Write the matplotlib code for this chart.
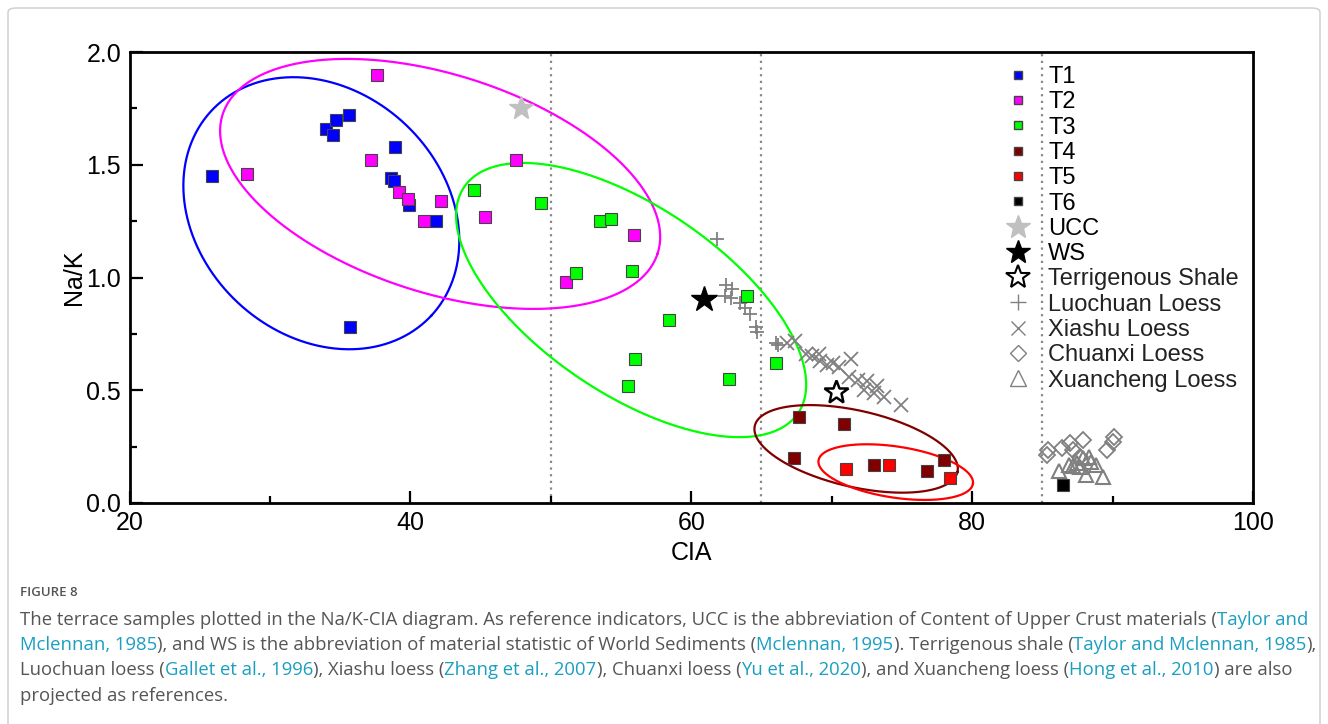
import numpy as np
import matplotlib
matplotlib.use('Agg')
import matplotlib.pyplot as plt
from matplotlib.lines import Line2D
from matplotlib.patches import FancyBboxPatch

plt.rcParams['font.family'] = ['Liberation Sans', 'DejaVu Sans']

# terrace samples (CIA, Na/K)
t1_cia = [25.9, 34.0, 34.7, 35.6, 34.5, 38.9, 38.6, 38.8, 39.9, 41.8, 35.7]
t1_nak = [1.45, 1.66, 1.70, 1.72, 1.63, 1.58, 1.44, 1.43, 1.32, 1.25, 0.78]
t2_cia = [37.6, 28.4, 37.2, 39.2, 39.8, 42.2, 41.0, 47.5, 45.3, 55.9, 51.1]
t2_nak = [1.90, 1.46, 1.52, 1.38, 1.35, 1.34, 1.25, 1.52, 1.27, 1.19, 0.98]
t3_cia = [44.5, 49.3, 53.5, 54.3, 55.8, 51.8, 58.4, 64.0, 56.0, 55.5, 62.7, 66.0]
t3_nak = [1.39, 1.33, 1.25, 1.26, 1.03, 1.02, 0.81, 0.92, 0.64, 0.52, 0.55, 0.62]
t4_cia = [67.7, 70.9, 67.3, 73.0, 76.8, 78.0]
t4_nak = [0.38, 0.35, 0.20, 0.17, 0.14, 0.19]
t5_cia = [71.0, 74.1, 78.4]
t5_nak = [0.15, 0.17, 0.11]
t6_cia = [86.5]
t6_nak = [0.08]

# reference indicators
ucc = (47.9, 1.75)
ws = (60.9, 0.905)
shale = (70.3, 0.494)

luochuan_cia = [61.8, 62.5, 62.9, 62.4, 62.8, 63.5, 63.8, 64.2, 64.6, 64.7, 66.0, 66.2]
luochuan_nak = [1.17, 0.965, 0.95, 0.92, 0.91, 0.885, 0.865, 0.84, 0.78, 0.76, 0.71, 0.70]
xiashu_cia = [67.4, 66.8, 68.2, 68.6, 69.1, 69.2, 69.7, 70.1, 70.5, 71.4, 71.2, 71.9,
              72.5, 72.3, 73.0, 73.2, 73.7, 74.9]
xiashu_nak = [0.72, 0.71, 0.66, 0.65, 0.66, 0.63, 0.61, 0.62, 0.605, 0.64, 0.56, 0.545,
              0.54, 0.50, 0.49, 0.52, 0.47, 0.435]
chuanxi_cia = [85.4, 85.3, 86.4, 87.0, 87.2, 87.9, 87.7, 90.1, 90.0, 89.6]
chuanxi_nak = [0.235, 0.213, 0.242, 0.265, 0.235, 0.279, 0.205, 0.294, 0.272, 0.235]
xuancheng_cia = [86.2, 86.9, 87.5, 87.9, 88.3, 88.1, 88.8, 89.3, 87.7, 87.2, 88.5]
xuancheng_nak = [0.14, 0.17, 0.176, 0.198, 0.205, 0.124, 0.169, 0.117, 0.16, 0.165, 0.18]

# ellipses: centre (CIA, Na/K), semi-axes in CIA-equivalent units, tilt (deg)
ell_colors = ['#0000ff', '#ff00ff', '#00ff00', '#800000', '#ff0000']
ell_cx = [33.66, 42.12, 55.72, 71.74, 74.56]
ell_cy = [1.285, 1.415, 0.90, 0.240, 0.137]
ell_a = [10.7, 16.26, 14.36, 7.40, 5.56]
ell_b = [8.71, 7.77, 6.67, 2.72, 1.82]
ell_ang = [-43.0, -17.7, -34.1, -12.8, -8.6]

boundaries = [50, 65, 85]

fig = plt.figure(figsize=(13.28, 7.24), dpi=100)
W, H = 1328, 724
ax = fig.add_axes([129.5 / W, 1 - 503 / H, (1253 - 129.5) / W, (503 - 52) / H])
ax.set_xlim(20, 100)
ax.set_ylim(0, 2.0)

for b in boundaries:
    ax.axvline(b, color='#888888', linestyle=(0, (1, 2)), linewidth=1.6, zorder=1)

# ellipses drawn in data space, corrected for the axis aspect
bb = ax.get_position()
k = (bb.height * H / 2.0) / (bb.width * W / 80.0)
t = np.linspace(0, 2 * np.pi, 300)
for c, cx, cy, a, b_, ang in zip(ell_colors, ell_cx, ell_cy, ell_a, ell_b, ell_ang):
    p = np.radians(ang)
    ex = cx + a * np.cos(p) * np.cos(t) - b_ * np.sin(p) * np.sin(t)
    ey = cy + (a * np.sin(p) * np.cos(t) + b_ * np.cos(p) * np.sin(t)) / k
    ax.plot(ex, ey, color=c, linewidth=1.6, zorder=2)

gray = '#808080'
ax.plot(luochuan_cia, luochuan_nak, '+', color=gray, markersize=10, mew=1.3, zorder=3)
ax.plot(xiashu_cia, xiashu_nak, 'x', color=gray, markersize=10, mew=1.3, zorder=3)
ax.plot(chuanxi_cia, chuanxi_nak, 'D', mfc='none', mec=gray, markersize=8, mew=1.3, zorder=3)
ax.plot(xuancheng_cia, xuancheng_nak, '^', mfc='none', mec=gray, markersize=10, mew=1.5, zorder=3)

sq = dict(marker='s', linestyle='none', markersize=8, mec='#444444', mew=0.8, zorder=4)
ax.plot(t1_cia, t1_nak, mfc='#0000ff', **sq)
ax.plot(t2_cia, t2_nak, mfc='#ff00ff', **sq)
ax.plot(t3_cia, t3_nak, mfc='#00ff00', **sq)
ax.plot(t4_cia, t4_nak, mfc='#800000', **sq)
ax.plot(t5_cia, t5_nak, mfc='#ff0000', **sq)
ax.plot(t6_cia, t6_nak, mfc='#000000', **sq)

ax.plot(*ucc, '*', color='#c0c0c0', markersize=18, zorder=5)
ax.plot(*ws, '*', color='black', markersize=19, zorder=5)
ax.plot(*shale, '*', mfc='white', mec='black', mew=1.8, markersize=18, zorder=5)

# legend
lg = dict(linestyle='none')
handles = [
    Line2D([], [], marker='s', mfc='#0000ff', mec='#444444', markersize=6, **lg),
    Line2D([], [], marker='s', mfc='#ff00ff', mec='#444444', markersize=6, **lg),
    Line2D([], [], marker='s', mfc='#00ff00', mec='#444444', markersize=6, **lg),
    Line2D([], [], marker='s', mfc='#800000', mec='#444444', markersize=6, **lg),
    Line2D([], [], marker='s', mfc='#ff0000', mec='#444444', markersize=6, **lg),
    Line2D([], [], marker='s', mfc='#000000', mec='#444444', markersize=6, **lg),
    Line2D([], [], marker='*', color='#c0c0c0', markersize=18, **lg),
    Line2D([], [], marker='*', color='black', markersize=18, **lg),
    Line2D([], [], marker='*', mfc='white', mec='black', mew=1.5, markersize=18, **lg),
    Line2D([], [], marker='+', color=gray, markersize=12, mew=1.0, **lg),
    Line2D([], [], marker='x', color=gray, markersize=10, mew=1.0, **lg),
    Line2D([], [], marker='D', mfc='none', mec=gray, markersize=8, mew=1.0, **lg),
    Line2D([], [], marker='^', mfc='none', mec=gray, markersize=11, mew=1.0, **lg),
]
labels = ['T1', 'T2', 'T3', 'T4', 'T5', 'T6', 'UCC', 'WS', 'Terrigenous Shale',
          'Luochuan Loess', 'Xiashu Loess', 'Chuanxi Loess', 'Xuancheng Loess']
leg = ax.legend(handles, labels, loc='upper left', bbox_to_anchor=(0.7725, 0.969),
                frameon=False, fontsize=17, labelspacing=0.14, handletextpad=0.4,
                handlelength=1.75, borderaxespad=0, borderpad=0)
for txt in leg.get_texts()[8:]:
    txt.set_color('#222222')

ax.set_xticks([20, 40, 60, 80, 100])
ax.set_xticks([30, 50, 70, 90], minor=True)
ax.set_yticks([0.0, 0.5, 1.0, 1.5, 2.0])
ax.set_yticks([0.25, 0.75, 1.25, 1.75], minor=True)
ax.set_yticklabels(['0.0', '0.5', '1.0', '1.5', '2.0'])
ax.tick_params(which='both', direction='in', width=1.6, labelsize=18, pad=6)
ax.tick_params(which='major', length=9)
ax.tick_params(which='minor', length=5)
for s in ax.spines.values():
    s.set_linewidth(2)
ax.set_xlabel('CIA', fontsize=18, labelpad=4)
ax.set_ylabel('Na/K', fontsize=18, labelpad=0)

# outer frame
fig.patches.append(FancyBboxPatch((8 / W, -0.1), (1312 / W), 1.1 - 8 / H,
                                  boxstyle='round,pad=0,rounding_size=0.006',
                                  transform=fig.transFigure, fill=False,
                                  edgecolor='#cccccc', linewidth=1.0))

# caption
cap_font = ['Open Sans', 'DejaVu Sans']
txt_col = '#555555'
link_col = '#1a9fc0'
fig.text(20 / W, 1 - 593 / H, 'FIGURE 8', fontsize=9.5, color='#555555',
         family=cap_font, va='center', weight='semibold')

caption = [
    [("The terrace samples plotted in the Na/K-CIA diagram. As reference indicators, UCC is the "
      "abbreviation of Content of Upper Crust materials (", 0), ("Taylor and", 1)],
    [("Mclennan, 1985", 1), ("), and WS is the abbreviation of material statistic of World Sediments (", 0),
     ("Mclennan, 1995", 1), ("). Terrigenous shale (", 0), ("Taylor and Mclennan, 1985", 1), ("),", 0)],
    [("Luochuan loess (", 0), ("Gallet et al., 1996", 1), ("), Xiashu loess (", 0),
     ("Zhang et al., 2007", 1), ("), Chuanxi loess (", 0), ("Yu et al., 2020", 1),
     ("), and Xuancheng loess (", 0), ("Hong et al., 2010", 1), (") are also", 0)],
    [("projected as references.", 0)],
]
line_y = [620, 645, 670, 696]
renderer = fig.canvas.get_renderer()
for parts, yp in zip(caption, line_y):
    x = 20
    for s, link in parts:
        tx = fig.text(x / W, 1 - yp / H, s, fontsize=13.3, family=cap_font,
                      color=link_col if link else txt_col, va='center', ha='left')
        x += tx.get_window_extent(renderer).width

fig.savefig('out.png', dpi=100)
